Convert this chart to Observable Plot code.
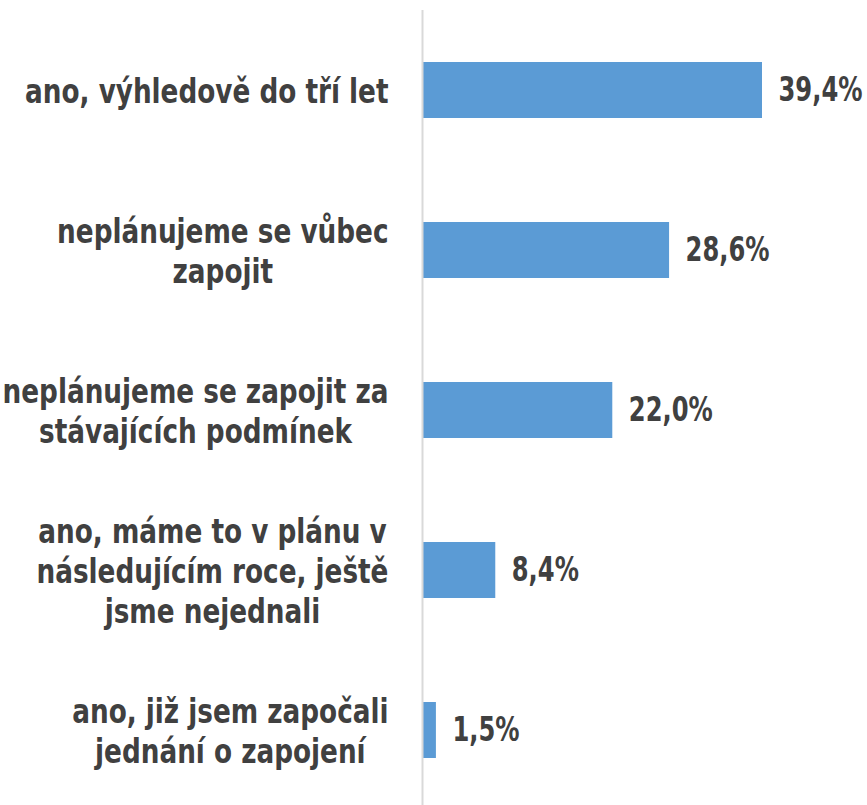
<!DOCTYPE html>
<html><head><meta charset="utf-8">
<script src="https://cdn.jsdelivr.net/npm/d3@7"></script>
<script src="https://cdn.jsdelivr.net/npm/@observablehq/plot@0.6"></script>
<style>body{margin:0;background:#fff}</style>
</head><body><div id="chart"></div>
<script>
const categories = [
  "ano, výhledově do tří let",
  "neplánujeme se vůbec\nzapojit",
  "neplánujeme se zapojit za\nstávajících podmínek",
  "ano, máme to v plánu v\nnásledujícím roce, ještě\njsme nejednali",
  "ano, již jsem započali\njednání o zapojení"
];
const values = [39.4, 28.6, 22.0, 8.4, 1.5];
const valueLabels = ["39,4%", "28,6%", "22,0%", "8,4%", "1,5%"];

const family = "'DejaVu Sans Condensed', sans-serif";
const fs = 33;
const ctx = document.createElement("canvas").getContext("2d");
ctx.font = `bold ${fs}px ${family}`;
// horizontal squeeze to mimic a narrow face
const widest = d3.max(categories.flatMap(c => c.split("\n")), l => ctx.measureText(l).width);
const s = 386 / widest;
const sv = 84 / ctx.measureText(valueLabels[0]).width;
const data = categories.map((c, i) => {
  const maxW = d3.max(c.split("\n"), l => ctx.measureText(l).width) * s;
  return {cat: c, value: values[i], label: valueLabels[i], off: -35 - maxW / 2};
});

const chart = Plot.plot({
  width: 867,
  height: 805,
  marginLeft: 423,
  marginRight: 0,
  marginTop: 10,
  marginBottom: 0,
  style: {fontFamily: family, background: "#fff"},
  x: {domain: [0, 444 / (339 / 39.4)], axis: null},
  y: {domain: categories, range: [10, 810], paddingInner: 0.65, paddingOuter: 0.325, axis: null},
  marks: [
    Plot.barX(data, {x: "value", y: "cat", fill: "#5b9bd5"}),
    Plot.ruleX([0], {stroke: "#d9d9d9", strokeWidth: 2, dx: -1}),
    Plot.text(data, {x: "value", y: "cat", text: "label", textAnchor: "start", dx: 16,
      fill: "#404040", fontWeight: "bold", fontSize: fs}),
    ...data.map(d => Plot.text([d], {x: 0, y: "cat", text: "cat", textAnchor: "middle",
      dx: d.off, fill: "#404040", fontWeight: "bold", fontSize: fs, lineHeight: 40 / fs, lineAnchor: "middle"}))
  ]
});
chart.querySelectorAll("g[aria-label='text']").forEach((g, gi) => {
  const k = gi === 0 ? sv : s;
  g.querySelectorAll("text").forEach(t => {
    const tr = t.getAttribute("transform") || "";
    t.setAttribute("transform", `${tr} scale(${k},1)`);
  });
});
document.getElementById("chart").append(chart);
</script>
</body></html>
